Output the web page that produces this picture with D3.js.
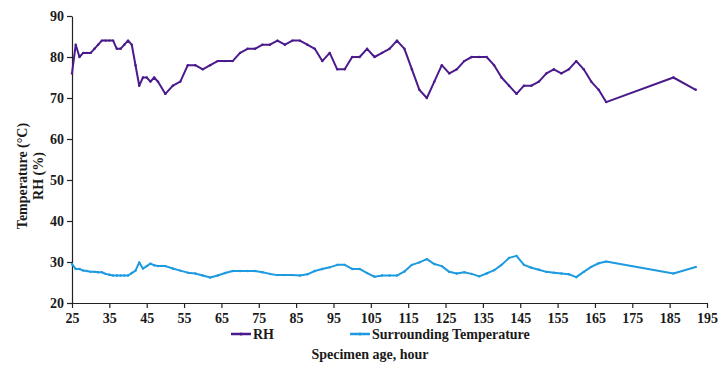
<!DOCTYPE html>
<html>
<head>
<meta charset="utf-8">
<script src="https://cdn.jsdelivr.net/npm/d3@7"></script>
<style>
  body { margin: 0; background: #fff; }
</style>
</head>
<body>
<svg></svg>
<script>
// Data
let hours = [25, 26, 27, 28, 29, 30, 31, 32, 33, 34, 35, 36, 37, 38, 39, 40, 41, 42, 43, 44, 45, 46, 47, 48,
  50, 52, 54, 56, 58, 60, 62, 64, 66, 68, 70, 72, 74, 76, 78, 80, 82, 84, 86, 88, 90, 92, 94, 96, 98,
  100, 102, 104, 106, 108, 110, 112, 114, 116, 118, 120, 122, 124, 126, 128, 130, 132, 134, 136, 138,
  140, 142, 144, 146, 148, 150, 152, 154, 156, 158, 160, 162, 164, 166, 168, 186, 192];

let rh = [76, 83, 80, 81, 81, 81, 82, 83, 84, 84, 84, 84, 82, 82, 83, 84, 83, 78, 73, 75, 75, 74, 75, 74,
  71, 73, 74, 78, 78, 77, 78, 79, 79, 79, 81, 82, 82, 83, 83, 84, 83, 84, 84, 83, 82, 79, 81, 77, 77,
  80, 80, 82, 80, 81, 82, 84, 82, 77, 72, 70, 74, 78, 76, 77, 79, 80, 80, 80, 78,
  75, 73, 71, 73, 73, 74, 76, 77, 76, 77, 79, 77, 74, 72, 69, 75, 72];

let temp = [29.5, 28.3, 28.3, 27.9, 27.8, 27.6, 27.6, 27.5, 27.5, 27.1, 26.9, 26.7, 26.7, 26.7, 26.7, 26.7, 27.3, 27.9, 29.9, 28.4, 29.0, 29.6, 29.2, 29.0,
  29.0, 28.4, 27.9, 27.4, 27.2, 26.7, 26.2, 26.7, 27.3, 27.8, 27.8, 27.8, 27.8, 27.5, 27.1, 26.8, 26.8, 26.8, 26.7, 27.0, 27.8, 28.3, 28.7, 29.3, 29.3,
  28.3, 28.3, 27.3, 26.4, 26.7, 26.7, 26.7, 27.7, 29.3, 29.9, 30.7, 29.5, 29.0, 27.6, 27.2, 27.5, 27.1, 26.5, 27.2, 28.0,
  29.3, 31.0, 31.5, 29.3, 28.6, 28.1, 27.6, 27.4, 27.2, 27.0, 26.3, 27.6, 28.8, 29.7, 30.1, 27.2, 28.8];

let xTicks = d3.range(25, 196, 10);
let yTicks = d3.range(20, 91, 10);

let seriesNames = ["RH", "Surrounding Temperature"];
let seriesColors = ["#4b1a8c", "#1e9be0"];

// Chart variables
let width = 718;
let height = 366;
let padLeft = 72;
let padRight = 707;
let padTop = 16;
let padBottom = 303;
let font = "'Liberation Serif', 'Times New Roman', Times, serif";

let svg = d3.select("svg").attr("width", width).attr("height", height);

let xScale = d3.scaleLinear().domain([25, 195]).range([padLeft, padRight]);
let yScale = d3.scaleLinear().domain([20, 90]).range([padBottom, padTop]);

// Axes
let xAxis = d3.axisBottom(xScale).tickValues(xTicks).tickSize(5).tickSizeOuter(0);
let yAxis = d3.axisLeft(yScale).tickValues(yTicks).tickSize(5).tickSizeOuter(0);

let gx = svg.append("g")
  .attr("transform", "translate(0," + padBottom + ")")
  .call(xAxis);
gx.selectAll("text").attr("dy", "0.85em");

let gy = svg.append("g")
  .attr("transform", "translate(" + padLeft + ",0)")
  .call(yAxis);
gy.selectAll("text").attr("x", -8);

svg.selectAll(".domain, .tick line").attr("stroke", "#222").attr("stroke-width", 1.2);

// Lines
let lineOf = (vals) => d3.line()
  .x((d, i) => xScale(hours[i]))
  .y((d) => yScale(d))(vals);

[rh, temp].forEach((vals, k) => {
  svg.append("path")
    .attr("d", lineOf(vals))
    .attr("fill", "none")
    .attr("stroke", seriesColors[k])
    .attr("stroke-width", 2)
    .attr("stroke-linejoin", "round");

  svg.append("g").selectAll("circle")
    .data(vals)
    .join("circle")
    .attr("cx", (d, i) => xScale(hours[i]))
    .attr("cy", (d) => yScale(d))
    .attr("r", 1.2)
    .attr("fill", seriesColors[k]);
});

// Y title
let yTitle = svg.append("text")
  .attr("transform", "translate(30,176) rotate(-90)")
  .attr("text-anchor", "middle");
yTitle.append("tspan").attr("x", 0).attr("dy", "-0.2em").text("Temperature (°C)");
yTitle.append("tspan").attr("x", 0).attr("dy", "1.15em").text("RH (%)");

// Legend
let legendX = [231, 350];
seriesNames.forEach((name, k) => {
  let g = svg.append("g").attr("transform", "translate(" + legendX[k] + ",334)");
  g.append("line").attr("x1", 0).attr("x2", 20).attr("y1", 0).attr("y2", 0)
    .attr("stroke", seriesColors[k]).attr("stroke-width", 2.5);
  g.append("circle").attr("cx", 10).attr("cy", 0).attr("r", 1.5).attr("fill", seriesColors[k]);
  g.append("text").attr("x", 22).attr("y", 4.5).text(name);
});

// X title
svg.append("text")
  .attr("x", 370)
  .attr("y", 359)
  .attr("text-anchor", "middle")
  .text("Specimen age, hour");

// Shared text style
svg.selectAll("g").attr("font-family", null).attr("font-size", null);
svg.selectAll("text")
  .style("font-family", font)
  .style("font-weight", "bold")
  .style("font-size", "14px")
  .attr("fill", "#1a1a1a");
</script>
</body>
</html>
